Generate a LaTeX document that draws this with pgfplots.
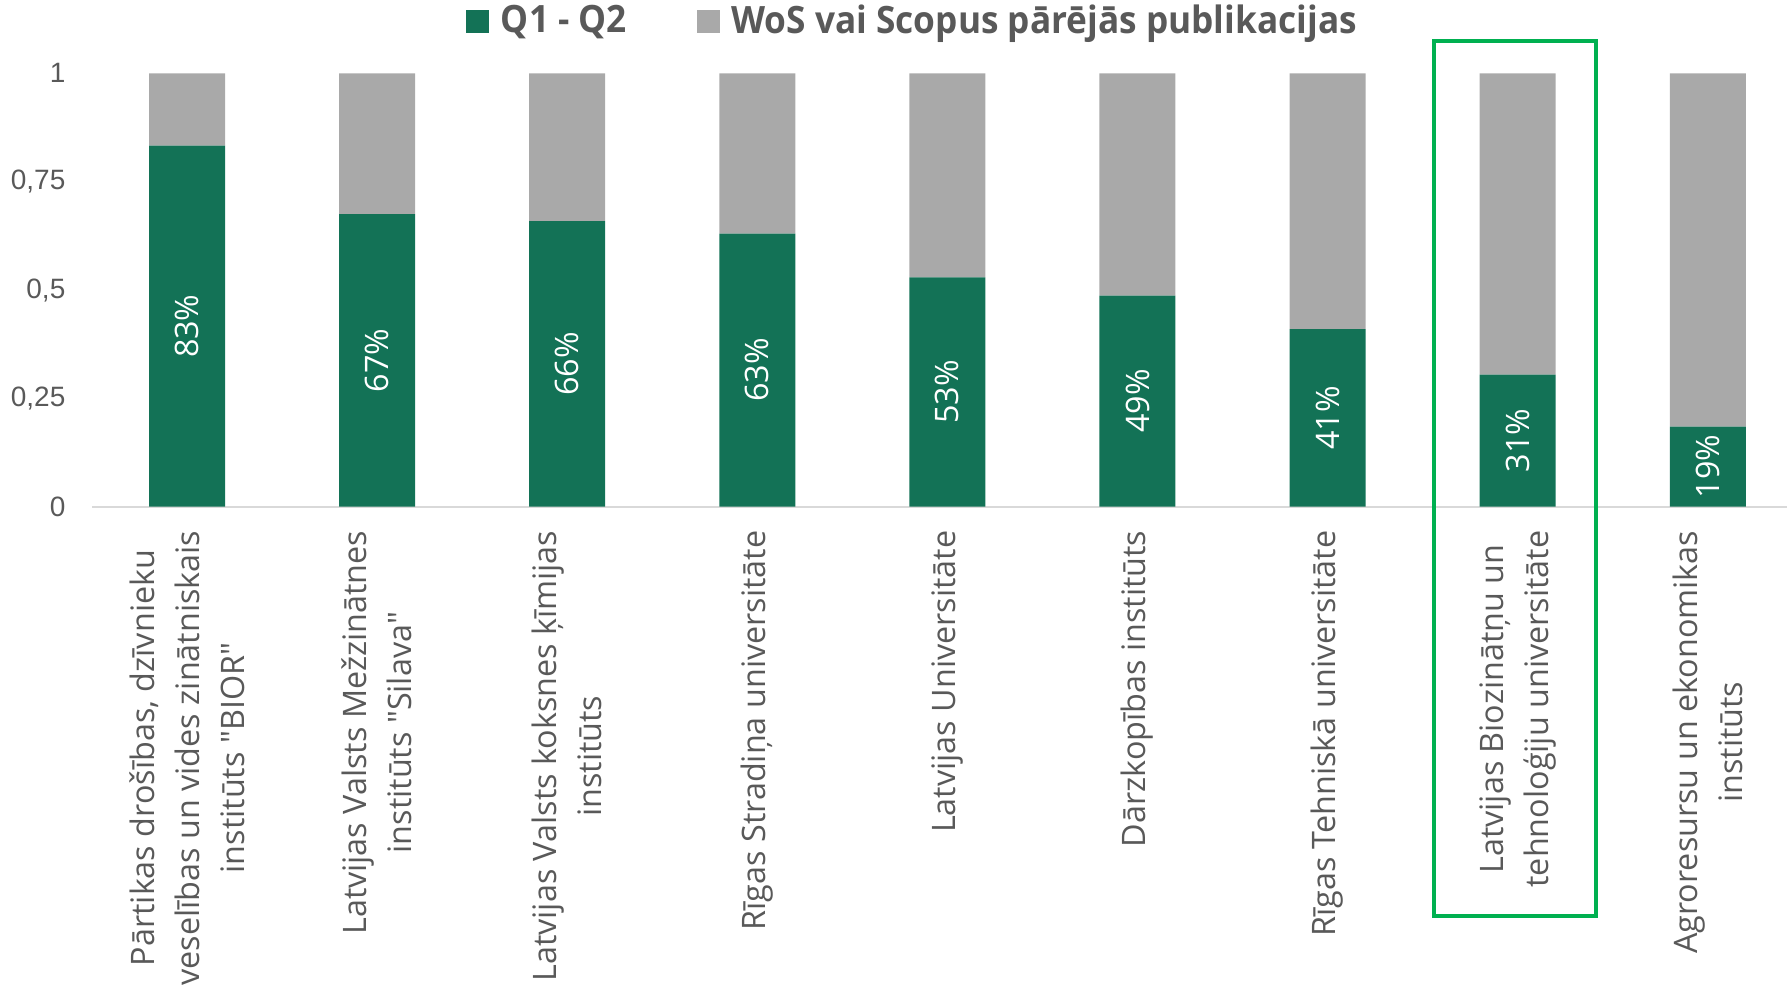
\documentclass[border=0pt]{standalone}
\usepackage{pgfplots}
\usepackage{pgfplotstable}
\pgfplotsset{compat=1.18}
\usepackage{fontspec}
\setmainfont{Open Sans}[Ligatures=TeXOff]
\newfontfamily\tickfont{Liberation Sans}
\newfontfamily\legfont{Open Sans}[FakeStretch=0.935]

\definecolor{qgreen}{RGB}{19,114,86}
\definecolor{qgray}{RGB}{169,169,169}
\definecolor{txtgray}{RGB}{89,89,89}
\definecolor{axgray}{RGB}{217,217,217}
\definecolor{boxgreen}{RGB}{0,176,80}

\pgfplotsset{sqlegend/.style={legend image code/.code={\fill[##1] (0pt,-3.45pt) rectangle (6.9pt,3.45pt);}}}

% share of Q1-Q2 and other WoS/Scopus publications
\pgfplotstableread{
x q o lbl
0 0.833 0.167 83
1 0.675 0.325 67
2 0.659 0.341 66
3 0.630 0.370 63
4 0.529 0.471 53
5 0.487 0.513 49
6 0.410 0.590 41
7 0.305 0.695 31
8 0.185 0.815 19
}\data

\begin{document}
\begin{tikzpicture}
\begin{axis}[
  name=ax,
  scale only axis,
  width=508.5pt, height=130pt,
  ybar stacked, bar width=22.8pt,
  xmin=-0.5, xmax=8.417, ymin=0, ymax=1,
  enlargelimits=false, clip=false,
  axis x line*=bottom, axis y line*=left,
  x axis line style={axgray, line width=0.6pt},
  y axis line style={draw=none},
  major tick length=0pt,
  xtick=data,
  xticklabels={
    {Pārtikas drošības, dzīvnieku\\veselības un vides zinātniskais\\institūts "BIOR"},
    {Latvijas Valsts Mežzinātnes\\institūts "Silava"},
    {Latvijas Valsts koksnes ķīmijas\\institūts},
    {Rīgas Stradiņa universitāte},
    {Latvijas Universitāte},
    {Dārzkopības institūts},
    {Rīgas Tehniskā universitāte},
    {Latvijas Biozinātņu un\\tehnoloģiju universitāte},
    {Agroresursu un ekonomikas\\institūts}},
  xticklabel style={rotate=90, anchor=east, align=center, inner xsep=7pt, inner ysep=0pt,
    font=\fontsize{9.7}{13.5}\selectfont, text=txtgray},
  ytick={0,0.25,0.5,0.75,1},
  yticklabel style={anchor=east, inner xsep=7.8pt, inner ysep=0pt,
    font=\tickfont\fontsize{8.4}{10}\selectfont, text=txtgray,
    /pgf/number format/.cd, use comma, fixed, assume math mode=true},
  legend style={at={(0.4855,1.119)}, anchor=center, draw=none, fill=none,
    legend columns=2, text=txtgray,
    font=\legfont\bfseries\fontsize{11.3}{13}\selectfont,
    /tikz/every even column/.append style={column sep=19pt},
    /tikz/every odd column/.append style={column sep=1.5pt}},
]
\addplot[fill=qgreen, draw=none, sqlegend,
  nodes near coords={\pgfplotspointmeta\%},
  point meta=explicit symbolic,
  every node near coord/.append style={anchor=center, rotate=90,
    text=white, font=\fontsize{9.7}{11}\selectfont, inner sep=0pt},
] table[x=x, y=q, meta=lbl] {\data};
\addlegendentry{Q1 - Q2}
\addplot[fill=qgray, draw=none, sqlegend] table[x=x, y=o] {\data};
\addlegendentry{WoS vai Scopus pārējās publikacijas}
\draw[boxgreen, line width=1.2pt] (axis cs:6.558,-0.945) rectangle (axis cs:7.41,1.075);
\end{axis}
\pgfresetboundingbox
\path ([xshift=-27.6pt, yshift=-145.65pt]ax.south west) rectangle ([yshift=22pt]ax.north east);
\end{tikzpicture}
\end{document}
